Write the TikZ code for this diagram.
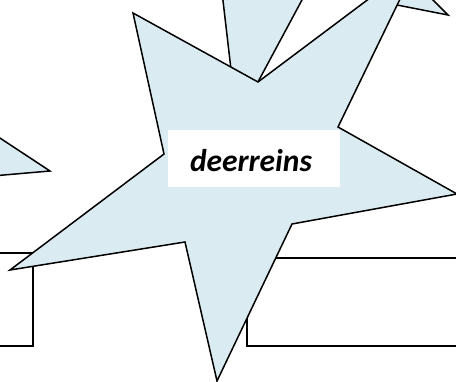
\documentclass[tikz,border=0pt]{standalone}
\usepackage{fontspec}
\setmainfont{Carlito}
\definecolor{starblue}{HTML}{DAECF2}
\tikzset{
  starshape/.style={draw=black, fill=starblue, line width=1.5pt, line join=miter},
  boxshape/.style={draw=black, fill=white, line width=1.5pt},
  labeltext/.style={font=\fontsize{31.5}{36}\selectfont\bfseries\itshape, inner sep=0pt, anchor=base}
}
\begin{document}
\begin{tikzpicture}[x=1pt,y=-1pt]
\useasboundingbox (0,0) rectangle (456,382);
\clip (0,0) rectangle (456,382);
% back stars (partial points)
\draw[starshape] (237,121) -- (220.6,-20) -- (312.7,-20) -- cycle;
\draw[starshape] (448,15) -- (418,-15) -- (320.5,-10) -- cycle;
\draw[starshape] (50,171) -- (-10,131.5) -- (-10,176.2) -- cycle;
% rectangles behind main star
\draw[boxshape] (-5,253) rectangle (33,346);
\draw[boxshape] (247,258) rectangle (462,346);
% main star
\draw[starshape] (133,13) -- (164,154) -- (10,270) -- (185,242) -- (217,381)
  -- (292,224) -- (457,194) -- (338,127) -- (418,-38) -- (258,82) -- cycle;
% label
\fill[white] (168,130) rectangle (340,187);
\node[labeltext] (lbl) at (251,172) {deerreins};
\end{tikzpicture}
\end{document}
